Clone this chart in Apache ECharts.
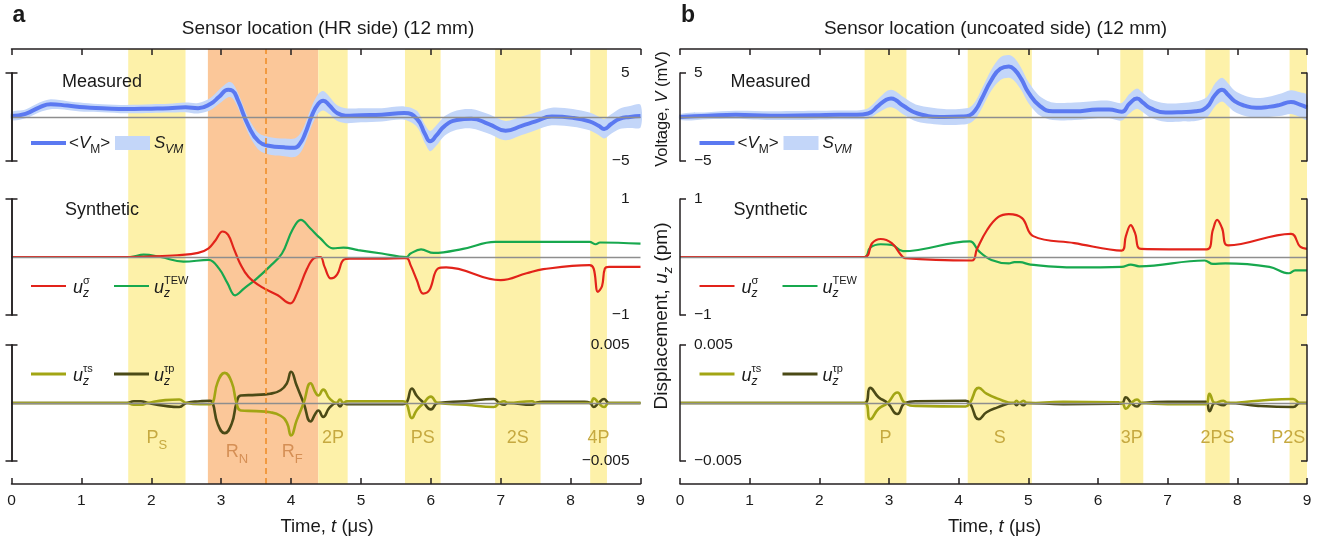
<!DOCTYPE html>
<html><head><meta charset="utf-8">
<script src="https://cdn.jsdelivr.net/npm/echarts@6/dist/echarts.min.js"></script>
<style>html,body{margin:0;padding:0;background:#fff}#c{width:1320px;height:539px}</style>
</head><body><div id="c"></div><script>
// ---------- tick labels ----------
const timeTicks = [0,1,2,3,4,5,6,7,8,9];
const voltageTicks = [-5, 5];
const dispTicks = [-1, 1];
const tauTicks = [-0.005, 0.005];

// ---------- panel a (HR side) ----------
const aMeasT = [0,0.2,0.4,0.56,0.8,1.04,1.3,1.64,2.0,2.25,2.49,2.67,2.85,2.97,3.1,3.16,3.24,3.39,3.54,3.7,3.9,4.05,4.13,4.2,4.3,4.39,4.46,4.55,4.65,4.78,5.0,5.3,5.62,5.8,5.92,5.99,6.08,6.2,6.37,6.58,6.83,7.07,7.3,7.5,7.73,8.03,8.27,8.4,8.48,8.58,8.7,8.85,9.0];
const aMeasMean = [0.1,0.35,1.1,1.45,1.3,1.1,1.0,0.9,0.95,1.0,1.1,1.0,1.5,2.3,3.1,3.0,1.9,-1.0,-2.8,-3.3,-3.45,-3.5,-3.0,-1.9,0.2,1.5,1.85,1.3,0.5,0.15,0.2,0.25,0.45,-0.2,-2.0,-2.75,-2.1,-1.0,-0.35,-0.2,-0.8,-1.55,-1.0,-0.5,0.05,-0.1,-0.5,-1.0,-1.35,-0.8,-0.2,0.0,0.1];
const aMeasSpread = [0.45,0.5,0.55,0.56,0.5,0.5,0.45,0.47,0.5,0.5,0.55,0.6,0.7,0.8,0.85,0.85,0.85,0.9,0.95,1.0,1.0,1.05,1.1,1.1,1.1,1.1,1.1,1.0,0.9,0.85,0.8,0.75,0.75,0.9,1.05,1.15,1.15,1.1,1.1,1.1,1.1,1.1,1.05,1.0,1.0,1.0,1.0,1.05,1.1,1.1,1.15,1.25,1.3];
const aSigma = [[0,0],[1.6,0],[2.0,0.01],[2.37,0.03],[2.67,0.07],[2.82,0.15],[2.92,0.29],[3.02,0.44],[3.1,0.38],[3.18,0.15],[3.27,-0.11],[3.39,-0.34],[3.57,-0.51],[3.81,-0.66],[3.99,-0.8],[4.08,-0.64],[4.23,-0.2],[4.33,-0.02],[4.42,0],[4.48,-0.17],[4.57,-0.37],[4.66,-0.3],[4.75,-0.05],[4.84,-0.03],[5.26,-0.03],[5.65,-0.02],[5.71,-0.14],[5.8,-0.4],[5.89,-0.63],[5.98,-0.57],[6.1,-0.2],[6.22,-0.18],[7.0,-0.4],[7.37,-0.28],[7.61,-0.21],[8.27,-0.14],[8.33,-0.2],[8.39,-0.6],[8.45,-0.5],[8.49,-0.2],[8.55,-0.17],[9.0,-0.17]];
const aTEW = [[0,0],[1.7,0],[1.89,0.04],[2.13,0],[2.46,-0.08],[2.82,-0.05],[2.97,-0.2],[3.09,-0.45],[3.2,-0.66],[3.33,-0.54],[3.5,-0.38],[3.69,-0.17],[3.87,0.06],[4.02,0.47],[4.14,0.64],[4.27,0.5],[4.42,0.32],[4.6,0.15],[4.75,0.16],[4.96,0.12],[5.3,0.06],[5.65,0],[5.71,0.06],[5.86,0.13],[6.04,0.07],[6.46,0.14],[6.92,0.26],[7.55,0.26],[8.27,0.26],[8.36,0.22],[8.42,0.25],[9.0,0.23]];
const aTauS = [[0,0],[1.65,0],[1.75,-0.15e-3],[1.85,-0.15e-3],[1.95,0],[2.2,0.25e-3],[2.4,0.3e-3],[2.5,0],[2.7,-0.1e-3],[2.84,-0.1e-3],[2.88,0],[2.95,1.8e-3],[3.05,2.6e-3],[3.15,1.8e-3],[3.22,0],[3.28,-0.65e-3],[3.5,-0.7e-3],[3.7,-0.8e-3],[3.85,-1.1e-3],[3.94,-1.7e-3],[4.0,-2.8e-3],[4.08,-1.5e-3],[4.18,0],[4.28,1.7e-3],[4.35,0.9e-3],[4.39,0.65e-3],[4.46,1.15e-3],[4.55,0.4e-3],[4.65,0],[4.7,0.3e-3],[4.75,0],[4.8,0.15e-3],[5.6,0.15e-3],[5.65,0],[5.73,-1.3e-3],[5.8,-0.6e-3],[5.9,0],[6.0,0.55e-3],[6.1,0],[6.5,-0.15e-3],[6.9,-0.35e-3],[6.98,0],[7.05,0.15e-3],[7.1,0],[7.45,0.15e-3],[7.5,0],[8.28,0],[8.33,0.4e-3],[8.4,0],[8.48,-0.35e-3],[8.55,0],[9,0]];
const aTauP = [[0,0],[1.65,0],[1.75,0.15e-3],[1.85,0.15e-3],[1.95,0],[2.2,-0.25e-3],[2.4,-0.35e-3],[2.5,0],[2.7,0.15e-3],[2.84,0.2e-3],[2.88,0],[2.95,-1.8e-3],[3.05,-2.6e-3],[3.15,-1.8e-3],[3.22,0],[3.28,0.65e-3],[3.5,0.7e-3],[3.7,0.8e-3],[3.85,1.1e-3],[3.94,1.7e-3],[4.0,2.7e-3],[4.08,1.5e-3],[4.18,0],[4.28,-1.6e-3],[4.35,-0.9e-3],[4.39,-0.65e-3],[4.46,-1.2e-3],[4.55,-0.4e-3],[4.65,0],[4.7,-0.3e-3],[4.75,0],[4.8,-0.1e-3],[5.6,-0.1e-3],[5.65,0],[5.73,1.25e-3],[5.8,0.6e-3],[5.9,0],[6.0,-0.55e-3],[6.1,0],[6.5,0.15e-3],[6.9,0.35e-3],[6.98,0],[7.05,-0.15e-3],[7.1,0],[7.45,-0.15e-3],[7.5,0],[7.6,0.1e-3],[8.2,0.1e-3],[8.28,0],[8.33,-0.35e-3],[8.4,0],[8.48,0.35e-3],[8.55,0],[9,0]];
const aBandStart = [1.67, 2.81, 3.64, 4.39, 5.63, 6.92, 8.28];
const aBandEnd   = [2.49, 3.64, 4.39, 4.81, 6.14, 7.57, 8.52];
const aBandKind  = ['y', 'o', 'o', 'y', 'y', 'y', 'y'];
const aBandLabel = ['{m|P}{s|S}', '{r|R}{rs|N}', '{r|R}{rs|F}', '{m|2P}', '{m|PS}', '{m|2S}', '{m|4P}'];
const aDashedT = 3.64;

// ---------- panel b (uncoated side) ----------
const bMeasT = [0,0.4,0.8,1.3,1.92,2.3,2.54,2.7,2.85,2.96,3.03,3.1,3.2,3.41,3.79,4.05,4.16,4.25,4.32,4.47,4.6,4.72,4.8,4.9,5.0,5.16,5.35,5.66,6.0,6.16,6.34,6.45,6.56,6.65,6.75,6.97,7.2,7.4,7.56,7.68,7.78,7.87,7.96,8.1,8.27,8.45,8.6,8.77,8.9,9.0];
const bMeasMean = [0.0,0.15,0.25,0.15,0.2,0.25,0.25,0.4,1.3,1.95,2.1,1.9,1.3,0.4,0.0,0.05,0.2,0.9,1.9,4.2,5.5,5.75,5.4,4.3,2.8,1.3,0.65,0.65,0.85,0.85,0.6,1.5,2.1,1.6,1.0,0.5,0.55,0.65,1.1,2.5,3.1,2.5,1.8,1.3,1.05,1.15,1.35,1.7,1.4,1.1];
const bMeasSpread = [0.35,0.4,0.45,0.5,0.5,0.5,0.5,0.6,0.8,0.95,1.0,1.0,1.0,0.95,0.9,0.9,0.9,1.0,1.1,1.2,1.3,1.3,1.3,1.25,1.2,1.1,1.0,1.0,1.0,1.0,1.0,1.1,1.15,1.1,1.05,1.05,1.05,1.1,1.15,1.3,1.35,1.3,1.2,1.15,1.1,1.15,1.25,1.35,1.4,1.4];
const bSigma = [[0,0],[2.65,0],[2.76,0.24],[2.88,0.31],[3.04,0.24],[3.17,0.04],[3.23,-0.02],[4.19,-0.06],[4.26,0.13],[4.41,0.47],[4.57,0.69],[4.72,0.74],[4.91,0.67],[5.07,0.36],[5.66,0.24],[6.34,0.11],[6.4,0.36],[6.47,0.55],[6.53,0.42],[6.62,0.14],[7.56,0.13],[7.65,0.47],[7.71,0.64],[7.78,0.5],[7.87,0.2],[8.77,0.4],[8.9,0.18],[9.0,0.14]];
const bTEW = [[0,0],[2.65,0],[2.73,0.16],[2.88,0.22],[3.04,0.21],[3.2,0.1],[4.16,0.27],[4.29,0.1],[4.47,-0.05],[4.72,-0.11],[4.8,-0.09],[4.88,-0.09],[5.03,-0.13],[5.66,-0.18],[6.34,-0.17],[6.47,-0.13],[6.59,-0.16],[7.53,-0.06],[7.65,-0.12],[7.83,-0.11],[8.46,-0.17],[8.74,-0.28],[8.83,-0.23],[9.0,-0.23]];
const bTauS = [[0,0],[2.65,0],[2.73,-1.4e-3],[2.85,-0.5e-3],[2.98,0],[3.12,0.9e-3],[3.23,0],[3.4,-0.25e-3],[4.1,-0.3e-3],[4.16,0],[4.29,1.3e-3],[4.4,0.8e-3],[4.55,0.4e-3],[4.79,0],[4.83,0.2e-3],[4.87,0],[4.93,0.2e-3],[4.98,0],[5.5,0.1e-3],[6.3,0.05e-3],[6.35,0],[6.4,-0.5e-3],[6.48,0],[6.56,0.3e-3],[6.63,0],[7.0,-0.1e-3],[7.55,-0.1e-3],[7.6,0.8e-3],[7.68,0],[7.8,0.2e-3],[7.86,0],[8.3,0.2e-3],[8.8,0.35e-3],[8.9,0],[9,0]];
const bTauP = [[0,0],[2.65,0],[2.73,1.3e-3],[2.85,0.5e-3],[2.98,0],[3.12,-0.95e-3],[3.23,0],[3.4,0.15e-3],[4.1,0.2e-3],[4.16,0],[4.29,-1.4e-3],[4.4,-0.8e-3],[4.55,-0.4e-3],[4.79,0],[4.83,-0.2e-3],[4.87,0],[4.93,-0.2e-3],[4.98,0],[5.5,-0.1e-3],[6.3,-0.05e-3],[6.35,0],[6.4,0.5e-3],[6.48,0],[6.56,-0.3e-3],[6.63,0],[7.0,0.1e-3],[7.55,0.1e-3],[7.6,-0.7e-3],[7.68,0],[7.8,-0.2e-3],[7.86,0],[8.3,-0.25e-3],[8.8,-0.35e-3],[8.9,0],[9,0]];
const bBandStart = [2.65, 4.13, 6.32, 7.54, 8.75];
const bBandEnd   = [3.25, 5.05, 6.65, 7.89, 9.0];
const bBandKind  = ['y', 'y', 'y', 'y', 'y'];
const bBandLabel = ['{m|P}', '{m|S}', '{m|3P}', '{m|2PS}', '{m|P2S}'];

// ---------- styling / layout ----------
const FONT = "'Liberation Sans', Arial, Helvetica, sans-serif";
const AX = '#231f20';
const C = {mean:'#5b79f1', band:'#c3d6f9', red:'#e2231a', green:'#17a84e', light:'#a2a514', dark:'#4b4a16',
           zero:'#8e8e8e', yellow:'#fdf1a9', orange:'#fbc799', dash:'#f08a22', labY:'#c6a940', labO:'#d58f55'};

const panels = [
  {x0: 11.5, x1: 640.5, labelSide: 'right', meas: [aMeasT, aMeasMean, aMeasSpread], sigma: aSigma, tew: aTEW,
   tauS: aTauS, tauP: aTauP, bands: [aBandStart, aBandEnd, aBandKind, aBandLabel], dashed: aDashedT,
   title: 'Sensor location (HR side) (12 mm)', letter: 'a'},
  {x0: 680, x1: 1307, labelSide: 'left', meas: [bMeasT, bMeasMean, bMeasSpread], sigma: bSigma, tew: bTEW,
   tauS: bTauS, tauP: bTauP, bands: [bBandStart, bBandEnd, bBandKind, bBandLabel], dashed: null,
   title: 'Sensor location (uncoated side) (12 mm)', letter: 'b'}
];
const rows = [
  {key: 'meas', top: 73, height: 88, min: -5, max: 5, ticks: voltageTicks},
  {key: 'syn', top: 199, height: 116, min: -1, max: 1, ticks: dispTicks},
  {key: 'tau', top: 345, height: 116, min: -0.005, max: 0.005, ticks: tauTicks}
];
const BG = {top: 49, height: 435};

const fmtTick = v => (v < 0 ? '\u2212' : '') + String(Math.abs(Number(v.toPrecision(6))));
const axLine = {show: true, lineStyle: {color: AX, width: 1.5}};
const axTick = {show: true, inside: true, length: 6, lineStyle: {color: AX, width: 1.5}};

const grid = [], xAxis = [], yAxis = [], series = [];
const labelRich = {
  m: {fontSize: 18, fontFamily: FONT, color: C.labY, lineHeight: 28},
  s: {fontSize: 13, fontFamily: FONT, color: C.labY, lineHeight: 28, verticalAlign: 'bottom'},
  r: {fontSize: 18, fontFamily: FONT, color: C.labO, lineHeight: 28},
  rs: {fontSize: 13, fontFamily: FONT, color: C.labO, lineHeight: 28, verticalAlign: 'bottom'}
};

panels.forEach((p, pi) => {
  const gBg = grid.length;
  grid.push({left: p.x0, width: p.x1 - p.x0, top: BG.top, height: BG.height});
  const xb = xAxis.length;
  xAxis.push({gridIndex: gBg, type: 'value', min: 0, max: 9, interval: 1, position: 'bottom', z: 10,
    axisLine: axLine, axisTick: {...axTick, customValues: timeTicks},
    axisLabel: {show: true, fontSize: 15.5, color: '#1a1a1a', fontFamily: FONT, margin: 9, customValues: timeTicks,
      showMinLabel: true, showMaxLabel: true}, splitLine: {show: false}});
  xAxis.push({gridIndex: gBg, type: 'value', min: 0, max: 9, interval: 1, position: 'top', z: 10,
    axisLine: axLine, axisTick: {...axTick, customValues: timeTicks}, axisLabel: {show: false}, splitLine: {show: false}});
  const yb = yAxis.length;
  yAxis.push({gridIndex: gBg, type: 'value', min: 0, max: 1, show: false, splitLine: {show: false}});
  const [bs, be, bk, bl] = p.bands;
  const bgSeries = {
    type: 'line', xAxisIndex: xb, yAxisIndex: yb, data: [], silent: true, z: 0, symbol: 'none',
    markArea: {silent: true, animation: false,
      data: bs.map((s, i) => [{
        name: bl[i], xAxis: s,
        itemStyle: {color: bk[i] === 'o' ? C.orange : C.yellow, opacity: 1, borderWidth: 0},
        label: {show: true, formatter: '{b}', position: ['50%', bk[i] === 'o' ? 403 : 389],
          align: 'center', verticalAlign: 'middle', offset: [be[i] >= 9 ? -10 : 0, 0], rich: labelRich}
      }, {xAxis: be[i]}])}
  };
  if (p.dashed != null) {
    bgSeries.markLine = {silent: true, animation: false, symbol: ['none', 'none'], label: {show: false},
      lineStyle: {color: C.dash, type: [6, 4], width: 1.5}, data: [{xAxis: p.dashed}]};
  }
  series.push(bgSeries);

  rows.forEach((r) => {
    const g = grid.length;
    grid.push({left: p.x0, width: p.x1 - p.x0, top: r.top, height: r.height});
    const xi = xAxis.length;
    xAxis.push({gridIndex: g, type: 'value', min: 0, max: 9, show: false, splitLine: {show: false}});
    const yi = yAxis.length;
    const other = p.labelSide === 'right' ? 'left' : 'right';
    yAxis.push({gridIndex: g, type: 'value', min: r.min, max: r.max, interval: r.max - r.min, position: p.labelSide, z: 10,
      axisLine: axLine, axisTick: {...axTick, customValues: r.ticks},
      axisLabel: {show: true, inside: true, margin: p.labelSide === 'right' ? 11 : 14, fontSize: 15.5, color: '#1a1a1a',
        fontFamily: FONT, customValues: r.ticks, showMinLabel: true, showMaxLabel: true, formatter: fmtTick},
      splitLine: {show: false}});
    yAxis.push({gridIndex: g, type: 'value', min: r.min, max: r.max, interval: r.max - r.min, position: other, z: 10,
      axisLine: axLine, axisTick: {...axTick, customValues: r.ticks}, axisLabel: {show: false}, splitLine: {show: false}});
    const base = {type: 'line', xAxisIndex: xi, yAxisIndex: yi, symbol: 'none', silent: true, animation: false, clip: false};
    const zeroLine = {...base, data: [], markLine: {silent: true, animation: false, symbol: ['none', 'none'],
      label: {show: false}, lineStyle: {color: C.zero, width: 1.3, type: 'solid'}, data: [{yAxis: 0}]}};
    if (r.key === 'meas') {
      const [T, M, S] = p.meas;
      series.push({type: 'custom', xAxisIndex: xi, yAxisIndex: yi, z: 1, silent: true, animation: false, clip: false,
        data: T.map((t, i) => [t, M[i] - S[i], M[i] + S[i]]),
        renderItem: (params, api) => {
          if (params.dataIndex !== 0) return null;
          const up = T.map((t, i) => api.coord([t, M[i] + S[i]]));
          const lo = T.map((t, i) => api.coord([t, M[i] - S[i]])).reverse();
          return {type: 'polygon', shape: {points: up.concat(lo), smooth: 0.3}, style: {fill: C.band}};
        }});
      series.push({...zeroLine, z: 2});
      series.push({...base, z: 3, smooth: 0.5, data: T.map((t, i) => [t, M[i]]),
        lineStyle: {color: C.mean, width: 4}});
    } else if (r.key === 'syn') {
      series.push({...zeroLine, z: 1});
      series.push({...base, z: 2, smooth: 0.4, data: p.tew, lineStyle: {color: C.green, width: 2.2}});
      series.push({...base, z: 3, smooth: 0.4, data: p.sigma, lineStyle: {color: C.red, width: 2.2}});
    } else {
      series.push({...zeroLine, z: 1});
      series.push({...base, z: 2, smooth: 0.5, data: p.tauP, lineStyle: {color: C.dark, width: 2.6}});
      series.push({...base, z: 3, smooth: 0.5, data: p.tauS, lineStyle: {color: C.light, width: 2.6}});
    }
  });
});

// ---------- text annotations ----------
function T(x, y, text, o) {
  o = o || {};
  return {type: 'text', silent: true, x: x, y: y, rotation: o.rot || 0, z: 100,
    style: {text: text, fontSize: o.size || 18, fontFamily: FONT, fontStyle: o.italic ? 'italic' : 'normal',
      fontWeight: o.bold ? 'bold' : 'normal', fill: o.fill || '#1a1a1a', align: o.align || 'left',
      verticalAlign: o.va || 'middle', rich: o.rich}};
}
function uLabel(x, y, sup) {
  return [T(x, y, 'u', {italic: true, size: 18}), T(x + 10, y + 6, 'z', {italic: true, size: 12}),
          T(x + 10, y - 7, sup, {size: 11})];
}
function richSet(fs) {
  return {
    n: {fontSize: fs, fontFamily: FONT, fill: '#1a1a1a', lineHeight: 26},
    i: {fontSize: fs, fontFamily: FONT, fontStyle: 'italic', fill: '#1a1a1a', lineHeight: 26},
    s: {fontSize: Math.round(fs * 0.7), fontFamily: FONT, fontStyle: 'italic', fill: '#1a1a1a', lineHeight: 26, verticalAlign: 'bottom'},
    su: {fontSize: Math.round(fs * 0.7), fontFamily: FONT, fill: '#1a1a1a', lineHeight: 26, verticalAlign: 'bottom'}
  };
}
const richN = richSet(17);
const graphic = [];
panels.forEach((p, pi) => {
  const dx = p.x0 - 11.5;
  const cx = (p.x0 + p.x1) / 2;
  graphic.push(T(p.x0 + 1, 16, p.letter, {bold: true, size: 23}));
  graphic.push(T(cx + 2, 29, p.title, {align: 'center', size: 19}));
  graphic.push(T(cx + 1, 527, '{n|Time, }{i|t}{n| (\u03bcs)}', {align: 'center', rich: richSet(18.5)}));
  graphic.push(T(62 + dx, 82, 'Measured', {size: 18}));
  graphic.push(T(65 + dx, 210, 'Synthetic', {size: 18}));
  // measured legend
  graphic.push({type: 'line', silent: true, z: 100, shape: {x1: 31 + dx, y1: 143, x2: 66 + dx, y2: 143},
    style: {stroke: C.mean, lineWidth: 4}});
  graphic.push(T(69 + dx, 143, '{n|<}{i|V}{su|M}{n|>}', {rich: richN}));
  graphic.push({type: 'rect', silent: true, z: 100, shape: {x: 115 + dx, y: 136, width: 35, height: 14},
    style: {fill: C.band}});
  graphic.push(T(154 + dx, 143, '{i|S}{s|VM}', {rich: richN}));
  // synthetic legend
  graphic.push({type: 'line', silent: true, z: 100, shape: {x1: 31 + dx, y1: 286, x2: 66 + dx, y2: 286},
    style: {stroke: C.red, lineWidth: 2.2}});
  graphic.push(...uLabel(73 + dx, 288, '\u03c3'));
  graphic.push({type: 'line', silent: true, z: 100, shape: {x1: 114 + dx, y1: 286, x2: 149 + dx, y2: 286},
    style: {stroke: C.green, lineWidth: 2.2}});
  graphic.push(...uLabel(154 + dx, 288, 'TEW'));
  // tau legend
  graphic.push({type: 'line', silent: true, z: 100, shape: {x1: 31 + dx, y1: 374, x2: 66 + dx, y2: 374},
    style: {stroke: C.light, lineWidth: 2.8}});
  graphic.push(...uLabel(73 + dx, 376, '\u03c4s'));
  graphic.push({type: 'line', silent: true, z: 100, shape: {x1: 114 + dx, y1: 374, x2: 149 + dx, y2: 374},
    style: {stroke: C.dark, lineWidth: 2.8}});
  graphic.push(...uLabel(154 + dx, 376, '\u03c4p'));
});
graphic.push(T(662, 109, '{n|Voltage, }{i|V}{n| (mV)}', {align: 'center', rot: Math.PI / 2, rich: richSet(16.5)}));
graphic.push(T(662, 316, '{n|Displacement, }{i|u}{s|z}{n| (pm)}', {align: 'center', rot: Math.PI / 2, rich: richSet(19)}));

const chart = echarts.init(document.getElementById('c'), null, {renderer: 'canvas', width: 1320, height: 539});
chart.setOption({
  animation: false,
  backgroundColor: '#ffffff',
  textStyle: {fontFamily: FONT},
  grid: grid, xAxis: xAxis, yAxis: yAxis, series: series, graphic: graphic
});
</script></body></html>
